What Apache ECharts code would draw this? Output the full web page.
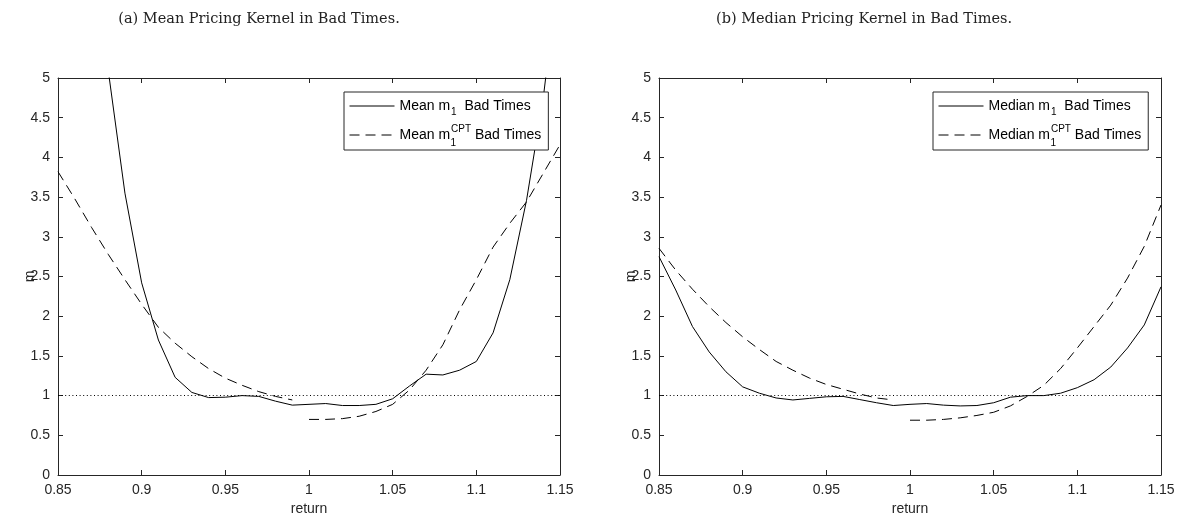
<!DOCTYPE html>
<html>
<head>
<meta charset="utf-8">
<script src="https://cdn.jsdelivr.net/npm/echarts@6/dist/echarts.min.js"></script>
<style>
html,body{margin:0;padding:0;background:#fff;}
#c{width:1178px;height:521px;}
</style>
</head>
<body>
<div id="c"></div>
<script>
// ---------------- data ----------------
const returns = [0.85,0.86,0.87,0.88,0.89,0.90,0.91,0.92,0.93,0.94,0.95,0.96,0.97,0.98,0.99,
                 1.00,1.01,1.02,1.03,1.04,1.05,1.06,1.07,1.08,1.09,1.10,1.11,1.12,1.13,1.14,1.15];
const returnsLoss = [0.85,0.86,0.87,0.88,0.89,0.90,0.91,0.92,0.93,0.94,0.95,0.96,0.97,0.98,0.99];
const returnsGain = [1.00,1.01,1.02,1.03,1.04,1.05,1.06,1.07,1.08,1.09,1.10,1.11,1.12,1.13,1.14,1.15];

const meanM1 = [16, 11, 7.5, 5.1, 3.55, 2.42, 1.70, 1.23, 1.04, 0.975, 0.98, 1.0, 0.99, 0.93, 0.88,
                0.89, 0.90, 0.875, 0.875, 0.89, 0.96, 1.12, 1.27, 1.26, 1.32, 1.43, 1.79, 2.46, 3.46, 4.75, 6.5];
const meanCptLoss = [3.82, 3.48, 3.12, 2.78, 2.46, 2.15, 1.86, 1.66, 1.49, 1.34, 1.22, 1.13, 1.05, 0.99, 0.945];
const meanCptGain = [0.70, 0.70, 0.71, 0.74, 0.80, 0.89, 1.07, 1.32, 1.64, 2.08, 2.46, 2.87, 3.17, 3.44, 3.80, 4.16];

const medianM1 = [2.75, 2.33, 1.87, 1.55, 1.30, 1.11, 1.03, 0.97, 0.945, 0.965, 0.985, 0.99, 0.95, 0.91, 0.875,
                  0.89, 0.90, 0.88, 0.87, 0.875, 0.91, 0.98, 1.0, 1.0, 1.03, 1.10, 1.20, 1.36, 1.60, 1.89, 2.37];
const medianCptLoss = [2.855, 2.58, 2.34, 2.12, 1.92, 1.74, 1.58, 1.43, 1.32, 1.22, 1.14, 1.08, 1.02, 0.97, 0.945];
const medianCptGain = [0.69, 0.69, 0.70, 0.72, 0.75, 0.79, 0.87, 0.99, 1.13, 1.34, 1.60, 1.87, 2.14, 2.48, 2.88, 3.40];

const refLevel = 1;
const xRange = [0.85, 1.15], xStep = 0.05;
const yRange = [0, 5], yStep = 0.5;

const titles = ['(a) Mean Pricing Kernel in Bad Times.', '(b) Median Pricing Kernel in Bad Times.'];
const names = [
  ['Mean m1 Bad Times', 'Mean m1CPT Bad Times'],
  ['Median m1 Bad Times', 'Median m1CPT Bad Times']
];
const legendPrefix = ['Mean m', 'Median m'];

// ---------------- layout ----------------
const SANS = '"Liberation Sans", Arial, sans-serif';
const AX = '#262626';
const grids = [
  {left: 58, top: 78, width: 502, height: 397},
  {left: 659, top: 78, width: 502, height: 397}
];
const legendPos = [{left: 344, top: 92}, {left: 933, top: 92}];
const titleX = [259, 864];

const pairs = (xs, ys) => xs.map((x, i) => [x, ys[i]]);
const fmt = v => String(+(+v).toFixed(2));

const xAxes = [], yAxes = [], series = [], legends = [], graphics = [];

const meas = document.createElement('canvas').getContext('2d');
meas.font = '14px "Liberation Sans"';

[[meanM1, meanCptLoss, meanCptGain], [medianM1, medianCptLoss, medianCptGain]].forEach((set, g) => {
  const baseTick = {inside: true, length: 5, lineStyle: {color: AX, width: 1}};
  const baseLine = {show: true, onZero: false, lineStyle: {color: AX, width: 1}};
  xAxes.push({
    gridIndex: g, type: 'value', position: 'bottom', min: xRange[0], max: xRange[1], interval: xStep,
    axisLine: baseLine, axisTick: baseTick, splitLine: {show: false},
    axisLabel: {formatter: fmt, color: AX, fontFamily: SANS, fontSize: 14, margin: 8},
    name: 'return', nameLocation: 'middle', nameGap: 27, nameMoveOverlap: false,
    nameTextStyle: {color: AX, fontFamily: SANS, fontSize: 14}
  });
  xAxes.push({
    gridIndex: g, type: 'value', position: 'top', min: xRange[0], max: xRange[1], interval: xStep,
    axisLine: baseLine, axisTick: baseTick, splitLine: {show: false}, axisLabel: {show: false}
  });
  yAxes.push({
    gridIndex: g, type: 'value', position: 'left', min: yRange[0], max: yRange[1], interval: yStep,
    axisLine: baseLine, axisTick: baseTick, splitLine: {show: false},
    axisLabel: {formatter: fmt, color: AX, fontFamily: SANS, fontSize: 14, margin: 8},
    name: 'm', nameLocation: 'middle', nameGap: 21, nameMoveOverlap: false,
    nameTextStyle: {color: AX, fontFamily: SANS, fontSize: 14}
  });
  yAxes.push({
    gridIndex: g, type: 'value', position: 'right', min: yRange[0], max: yRange[1], interval: yStep,
    axisLine: baseLine, axisTick: baseTick, splitLine: {show: false}, axisLabel: {show: false}
  });
  const xi = g * 2, yi = g * 2;
  series.push({
    name: names[g][0], type: 'line', xAxisIndex: xi, yAxisIndex: yi, symbol: 'none', clip: true,
    data: pairs(returns, set[0]),
    lineStyle: {color: '#000', width: 1, type: 'solid'}, itemStyle: {color: '#000'},
    markLine: {
      silent: true, symbol: ['none', 'none'], label: {show: false},
      lineStyle: {color: '#000', width: 1, type: [1, 2.6]},
      data: [{yAxis: refLevel}]
    }
  });
  series.push({
    name: names[g][1], type: 'line', xAxisIndex: xi, yAxisIndex: yi, symbol: 'none', clip: true,
    data: pairs(returnsLoss, set[1]),
    lineStyle: {color: '#000', width: 1, type: [10, 6]}, itemStyle: {color: '#000'}
  });
  series.push({
    name: names[g][1], type: 'line', xAxisIndex: xi, yAxisIndex: yi, symbol: 'none', clip: true,
    data: pairs(returnsGain, set[2]),
    lineStyle: {color: '#000', width: 1, type: [10, 6]}, itemStyle: {color: '#000'}
  });

  const pre = legendPrefix[g];
  legends.push({
    left: legendPos[g].left, top: legendPos[g].top, orient: 'vertical',
    selectedMode: false,
    data: [names[g][0], names[g][1]],
    itemWidth: 45, itemHeight: 14, itemGap: 7,
    padding: [7, 7, 8, 5],
    borderColor: AX, borderWidth: 1, backgroundColor: '#fff',
    itemStyle: {opacity: 0, color: 'transparent', borderWidth: 0},
    lineStyle: {opacity: 1, color: '#000', width: 1},
    formatter: n => n === names[g][0]
      ? '{t|' + pre + '}{sub|1}{t|  Bad Times}'
      : '{t|' + pre + '}{sup|CPT}{t| Bad Times}',
    textStyle: {
      color: '#000', fontFamily: SANS, fontSize: 14,
      rich: {
        t: {color: '#000', fontFamily: SANS, fontSize: 14},
        sub: {color: '#000', fontFamily: SANS, fontSize: 10, padding: [12, 0, 0, 1]},
        sup: {color: '#000', fontFamily: SANS, fontSize: 10, padding: [0, 0, 12, 1]}
      }
    }
  });
  // stacked subscript under the superscript of the second legend entry
  const textStart = legendPos[g].left + 5 + 45 + 5;
  graphics.push({
    type: 'text', z: 100, zlevel: 1,
    x: textStart + meas.measureText(pre).width + 1,
    y: legendPos[g].top + 51,
    style: {text: '1', font: '10px "Liberation Sans"', fill: '#000',
            textAlign: 'left', textVerticalAlign: 'middle', align: 'left', verticalAlign: 'middle'}
  });
  graphics.push({
    type: 'text', x: titleX[g], y: 19,
    style: {text: titles[g], font: '14.5px "DejaVu Serif"', fill: '#222',
            textAlign: 'center', textVerticalAlign: 'middle', align: 'center', verticalAlign: 'middle'}
  });
});

const chart = echarts.init(document.getElementById('c'), null, {renderer: 'canvas'});
chart.setOption({
  animation: false,
  backgroundColor: '#fff',
  grid: grids.map(g => Object.assign({containLabel: false, outerBoundsMode: 'none'}, g)),
  xAxis: xAxes,
  yAxis: yAxes,
  legend: legends,
  series: series,
  graphic: graphics
});
</script>
</body>
</html>
